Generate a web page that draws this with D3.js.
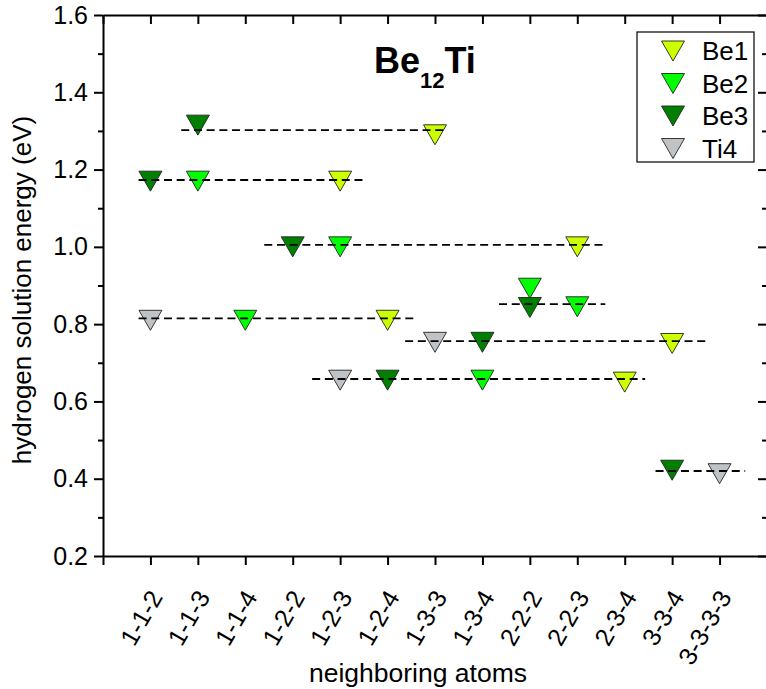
<!DOCTYPE html>
<html>
<head>
<meta charset="utf-8">
<script src="https://cdn.jsdelivr.net/npm/d3@7"></script>
<style>
  body { margin: 0; background: #fff; }
  svg { display: block; font-family: "Liberation Sans", Arial, sans-serif; }
</style>
</head>
<body>
<svg id="chart"></svg>
<script>
// neighbouring atom configurations (x categories)
const categories = ["1-1-2", "1-1-3", "1-1-4", "1-2-2", "1-2-3", "1-2-4", "1-3-3",
  "1-3-4", "2-2-2", "2-2-3", "2-3-4", "3-3-4", "3-3-3-3"];

// hydrogen solution energy (eV) per site, null = no point
const be1 = [null, null, null, null, 1.17, 0.81, 1.29, null, null, 1.00, 0.65, 0.75, null];
const be2 = [null, 1.17, 0.81, null, 1.00, null, null, 0.655, 0.893, 0.845, null, null, null];
const be3 = [1.17, 1.315, null, 1.00, null, 0.655, null, 0.753, 0.843, null, null, 0.422, null];
const ti4 = [0.81, null, null, null, 0.655, null, 0.753, null, null, null, null, null, 0.413];

const seriesNames = ["Be1", "Be2", "Be3", "Ti4"];
const seriesColors = ["#ccff00", "#00ff00", "#008000", "#c0c3c6"];

// dashed guide lines: energy level and extent in category units
const lineLevels = [1.302, 1.173, 1.005, 0.815, 0.852, 0.756, 0.658, 0.420];
const lineStart = [1.65, 0.75, 3.40, 0.75, 8.35, 6.37, 4.41, 11.65];
const lineEnd = [7.26, 5.57, 10.63, 6.62, 10.59, 12.72, 11.43, 13.54];

const yTicks = [0.2, 0.4, 0.6, 0.8, 1.0, 1.2, 1.4, 1.6];
const yMinor = [0.3, 0.5, 0.7, 0.9, 1.1, 1.3, 1.5];

const width = 766, height = 689;
const margin = { left: 103, top: 15, right: -1, bottom: 133 };

const svg = d3.select("#chart").attr("width", width).attr("height", height);

const x = d3.scaleLinear().domain([0, 14]).range([margin.left, width - margin.right]);
const y = d3.scaleLinear().domain([0.2, 1.6]).range([height - margin.bottom, margin.top]);

const series = [be1, be2, be3, ti4].map((vals, k) => ({
  name: seriesNames[k],
  color: seriesColors[k],
  points: vals.map((v, i) => ({ pos: i + 1, v: v })).filter(d => d.v !== null)
}));

const tri = "M-11.5,-10L11.5,-10L0,10Z";

// markers (drawn first, dashed lines go on top)
series.forEach(s => {
  svg.append("g").selectAll("path")
    .data(s.points)
    .join("path")
    .attr("d", tri)
    .attr("transform", d => `translate(${x(d.pos)},${y(d.v)})`)
    .attr("fill", s.color)
    .attr("stroke", "#222")
    .attr("stroke-width", 0.9);
});

svg.append("g").selectAll("line")
  .data(lineLevels)
  .join("line")
  .attr("x1", (d, i) => x(lineStart[i]))
  .attr("x2", (d, i) => x(lineEnd[i]))
  .attr("y1", d => y(d))
  .attr("y2", d => y(d))
  .attr("stroke", "#000")
  .attr("stroke-width", 1.8)
  .attr("stroke-dasharray", "8,4.7");

// axes
const positions = d3.range(0, 15);
const axisStyle = g => {
  g.select(".domain").attr("stroke-width", 2);
  g.selectAll(".tick line").attr("stroke-width", 2);
  g.selectAll(".tick text").attr("font-size", 25).attr("fill", "#000");
};

// bottom
svg.append("g")
  .attr("transform", `translate(0,${y(0.2)})`)
  .call(d3.axisBottom(x).tickValues(positions).tickSize(9).tickSizeOuter(0).tickFormat(""))
  .call(axisStyle);

svg.append("g").selectAll("text")
  .data(categories)
  .join("text")
  .attr("transform", (d, i) => `translate(${x(i + 1) + 13},${y(0.2) + 41}) rotate(-60)`)
  .attr("text-anchor", "end")
  .attr("font-size", 25)
  .text(d => d);

// top
svg.append("g")
  .attr("transform", `translate(0,${y(1.6)})`)
  .call(d3.axisBottom(x).tickValues(positions).tickSize(9).tickSizeOuter(0).tickFormat(""))
  .call(axisStyle);

// left
svg.append("g")
  .attr("transform", `translate(${x(0)},0)`)
  .call(d3.axisLeft(y).tickValues(yTicks).tickSize(9).tickSizeOuter(0).tickPadding(6).tickFormat(d3.format(".1f")))
  .call(axisStyle);
svg.append("g")
  .attr("transform", `translate(${x(0)},0)`)
  .call(d3.axisLeft(y).tickValues(yMinor).tickSize(5).tickFormat(""))
  .call(g => g.select(".domain").remove())
  .call(axisStyle);

// right
svg.append("g")
  .attr("transform", `translate(${x(14)},0)`)
  .call(d3.axisLeft(y).tickValues(yTicks).tickSize(9).tickSizeOuter(0).tickFormat(""))
  .call(axisStyle);
svg.append("g")
  .attr("transform", `translate(${x(14)},0)`)
  .call(d3.axisLeft(y).tickValues(yMinor).tickSize(5).tickFormat(""))
  .call(g => g.select(".domain").remove())
  .call(axisStyle);

// axis titles
svg.append("text")
  .attr("transform", "translate(31,290) rotate(-90)")
  .attr("text-anchor", "middle")
  .attr("font-size", 26)
  .text("hydrogen solution energy (eV)");

svg.append("text")
  .attr("x", 418)
  .attr("y", 682)
  .attr("text-anchor", "middle")
  .attr("font-size", 26.5)
  .text("neighboring atoms");

// title Be12Ti
const title = svg.append("text")
  .attr("x", 374)
  .attr("y", 73)
  .attr("font-size", 36)
  .attr("font-weight", "bold");
title.append("tspan").text("Be");
title.append("tspan").attr("font-size", 22).attr("dy", 15).text("12");
title.append("tspan").attr("dy", -15).text("Ti");

// legend
const legend = svg.append("g");
legend.append("rect")
  .attr("x", 637).attr("y", 32)
  .attr("width", 117).attr("height", 130)
  .attr("fill", "#fff")
  .attr("stroke", "#000")
  .attr("stroke-width", 1.2);

const rows = legend.selectAll("g.row")
  .data(series)
  .join("g")
  .attr("class", "row")
  .attr("transform", (d, i) => `translate(0,${51 + i * 32.5})`);
rows.append("path")
  .attr("d", tri)
  .attr("transform", "translate(673,0)")
  .attr("fill", d => d.color)
  .attr("stroke", "#222")
  .attr("stroke-width", 0.9);
rows.append("text")
  .attr("x", 702)
  .attr("y", 9)
  .attr("font-size", 26)
  .text(d => d.name);
</script>
</body>
</html>
